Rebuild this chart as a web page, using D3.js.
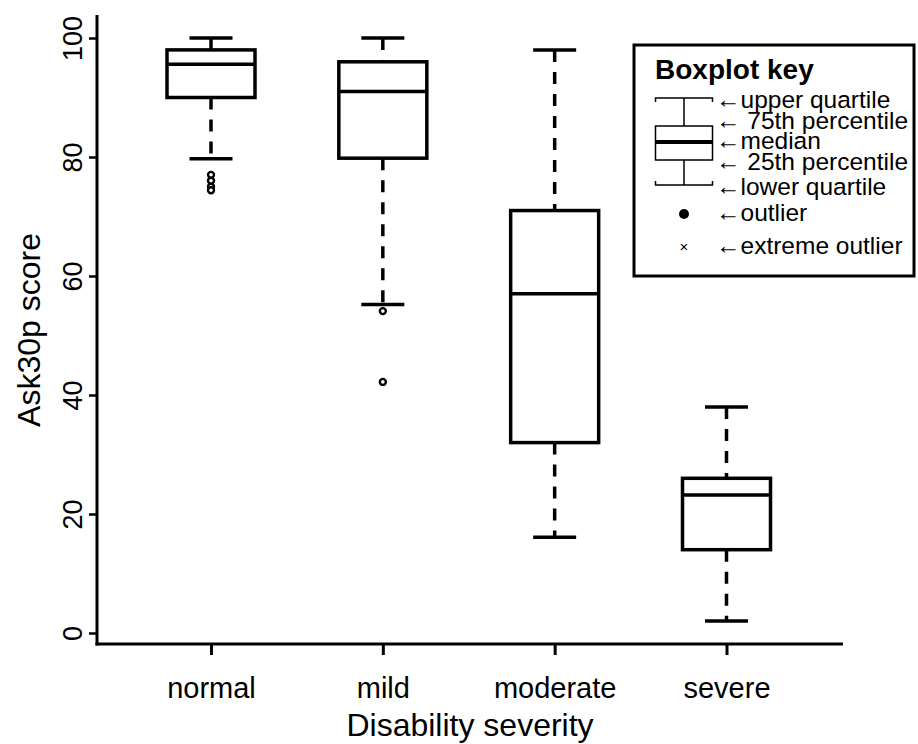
<!DOCTYPE html>
<html><head><meta charset="utf-8">
<script src="https://cdn.jsdelivr.net/npm/d3@7"></script>
<style>html,body{margin:0;padding:0;background:#fff}svg{display:block}text{font-family:"Liberation Sans",Arial,Helvetica,sans-serif;fill:#000}</style>
</head><body>
<script>
const categories = ["normal","mild","moderate","severe"];
const whiskerHigh = [100,100,98,38];
const upperQ = [98,96,71,26];
const medians = [95.6,91,57,23.2];
const lowerQ = [90,79.8,32,14];
const whiskerLow = [79.7,55.2,16.1,2];
const outliers = [[77,76,75,74.4],[54.1,42.2],[],[]];
const yTicks = [0,20,40,60,80,100];
const legendLabels = ["\u2190upper quartile","\u2190 75th percentile","\u2190median","\u2190 25th percentile","\u2190lower quartile","\u2190outlier","\u2190extreme outlier"];

const W=918,H=744;
const svg=d3.select("body").append("svg").attr("width",W).attr("height",H);
const y=d3.scaleLinear().domain([0,100]).range([633,38]);
const x=d3.scalePoint().domain(categories).range([211,726.5]);
const boxW=88, capW=43;

// axes
const yAxis=svg.append("g").attr("transform","translate(97,0)")
  .call(d3.axisLeft(y).tickValues(yTicks).tickSize(8).tickSizeOuter(0).tickFormat(d3.format("d")));
yAxis.select(".domain").remove();
yAxis.selectAll(".tick line").attr("stroke","#000").attr("stroke-width",2.5);
yAxis.selectAll(".tick text").attr("font-size",27).attr("text-anchor","middle")
  .attr("x",null).attr("dy",null)
  .attr("transform","translate(-15,0) rotate(-90)");
svg.append("line").attr("x1",97).attr("x2",97).attr("y1",15).attr("y2",645.5).attr("stroke","#000").attr("stroke-width",3);

const xAxis=svg.append("g").attr("transform","translate(0,644)")
  .call(d3.axisBottom(x).tickSize(11).tickSizeOuter(0));
xAxis.select(".domain").remove();
xAxis.selectAll(".tick line").attr("stroke","#000").attr("stroke-width",3);
xAxis.selectAll(".tick text").attr("font-size",29).attr("y",null).attr("dy",null)
  .attr("transform","translate(0,54)");
svg.append("line").attr("x1",95.5).attr("x2",843).attr("y1",644).attr("y2",644).attr("stroke","#000").attr("stroke-width",3);

svg.append("text").attr("transform","translate(40,330) rotate(-90)").attr("text-anchor","middle").attr("font-size",32).text("Ask30p score");
svg.append("text").attr("transform","translate(470,736)").attr("text-anchor","middle").attr("font-size",32).text("Disability severity");

// boxes
const g=svg.append("g");
categories.forEach((c,i)=>{
  const cx=x(c);
  const gg=g.append("g");
  gg.append("line").attr("x1",cx).attr("x2",cx).attr("y1",y(whiskerHigh[i])).attr("y2",y(upperQ[i]))
    .attr("stroke","#000").attr("stroke-width",3.5).attr("stroke-dasharray","12,10");
  gg.append("line").attr("x1",cx).attr("x2",cx).attr("y1",y(lowerQ[i])).attr("y2",y(whiskerLow[i]))
    .attr("stroke","#000").attr("stroke-width",3.5).attr("stroke-dasharray","12,10");
  [whiskerHigh[i],whiskerLow[i]].forEach(v=>{
    gg.append("line").attr("x1",cx-capW/2).attr("x2",cx+capW/2).attr("y1",y(v)).attr("y2",y(v)).attr("stroke","#000").attr("stroke-width",3.5);
  });
  gg.append("rect").attr("x",cx-boxW/2).attr("width",boxW).attr("y",y(upperQ[i])).attr("height",y(lowerQ[i])-y(upperQ[i]))
    .attr("fill","#fff").attr("stroke","#000").attr("stroke-width",3.5);
  gg.append("line").attr("x1",cx-boxW/2).attr("x2",cx+boxW/2).attr("y1",y(medians[i])).attr("y2",y(medians[i])).attr("stroke","#000").attr("stroke-width",3.5);
  gg.selectAll("circle").data(outliers[i]).enter().append("circle")
    .attr("cx",cx).attr("cy",d=>y(d)).attr("r",3).attr("fill","#fff").attr("stroke","#000").attr("stroke-width",2.4);
});

// legend
const L=svg.append("g");
L.append("rect").attr("x",634).attr("y",45).attr("width",280).attr("height",231).attr("fill","#fff").attr("stroke","#000").attr("stroke-width",3);
L.append("text").attr("x",655).attr("y",79).attr("font-size",28).attr("font-weight","bold").text("Boxplot key");
const lx=684,lw=57;
L.append("path").attr("d",`M${lx-lw/2},102V98H${lx+lw/2}V102M${lx},98V126M${lx},160V185M${lx-lw/2},181V185H${lx+lw/2}V181`)
  .attr("fill","none").attr("stroke","#000").attr("stroke-width",1.5);
L.append("rect").attr("x",lx-lw/2).attr("y",126).attr("width",lw).attr("height",34).attr("fill","none").attr("stroke","#000").attr("stroke-width",1.5);
L.append("line").attr("x1",lx-lw/2).attr("x2",lx+lw/2).attr("y1",142).attr("y2",142).attr("stroke","#000").attr("stroke-width",4);
L.append("circle").attr("cx",lx).attr("cy",214).attr("r",5).attr("fill","#000");
L.append("text").attr("x",lx).attr("y",252).attr("text-anchor","middle").attr("font-size",15).text("\u00d7");
const ly=[100,121,141,162,187,213,246];
legendLabels.forEach((t,i)=>{
  L.append("text").attr("x",716).attr("y",ly[i]+8).attr("font-size",24.5).text(t);
});
</script>
</body></html>
